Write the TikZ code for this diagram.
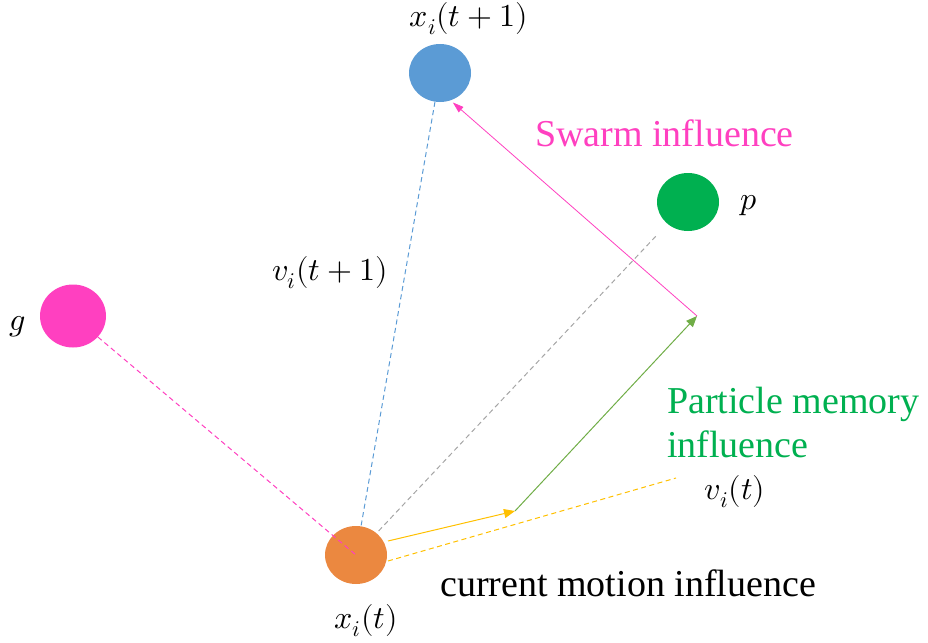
\documentclass[tikz,border=0pt]{standalone}
\usepackage{fontspec}
\usepackage{unicode-math}
\setmainfont{Liberation Serif}
\setmathfont{Latin Modern Math}
\usetikzlibrary{arrows.meta,shapes.geometric}
\definecolor{corange}{HTML}{EB8840}
\definecolor{cblue}{HTML}{5B9BD5}
\definecolor{cgreen}{HTML}{00B050}
\definecolor{cpink}{HTML}{FF40C0}
\definecolor{cyellow}{HTML}{FFC000}
\definecolor{cgline}{HTML}{70AD47}
\definecolor{cgray}{HTML}{A5A5A5}
\tikzset{
  particle/.style={ellipse,draw=none,minimum width=62pt,minimum height=58pt,inner sep=0pt},
  lbl/.style={font=\fontsize{38}{44}\selectfont,inner sep=0pt,align=left},
  mlbl/.style={font=\fontsize{32}{38}\selectfont,inner sep=0pt},
  conn/.style={line width=1pt},
  dconn/.style={line width=1pt,dash pattern=on 5pt off 3.5pt},
  tip/.style={-{Triangle[length=11pt,width=9pt]}}
}
\begin{document}
\begin{tikzpicture}[x=1pt,y=-1pt]
\useasboundingbox (0,0) rectangle (928,642);
\node[particle,fill=corange] (xo) at (356,555) {};
\node[particle,fill=cblue] (xn) at (440,73) {};
\node[particle,fill=cgreen] (p) at (688,202) {};
\node[particle,fill=cpink,minimum width=66pt,minimum height=63pt] (g) at (73,316) {};
\coordinate (A) at (515,511);
\coordinate (B) at (697,316);
\coordinate (V) at (676,478);
% connectors
\draw[dconn,cpink] (g) -- (xo.center);
\draw[dconn,cblue] (xn) -- (xo);
\draw[dconn,cgray,shorten <=17pt] (p) -- (xo);
\draw[conn,cyellow,tip] (388,541) -- (A);
\draw[dconn,cyellow] (388,561) -- (V);
\draw[conn,cgline,tip] (A) -- (B);
\draw[conn,cpink,line width=0.8pt,shorten >=3pt,-{Triangle[length=11pt,width=7pt]}] (B) -- (xn.-69);
% labels
\node[mlbl] (lxn) at (469,19) {$x_i(t+1)$};
\node[mlbl] (lxo) at (366,621) {$x_i(t)$};
\node[mlbl] (lv1) at (330,273) {$v_i(t+1)$};
\node[mlbl] (lvt) at (735,492) {$v_i(t)$};
\node[mlbl] (lp) at (749,206) {$p$};
\node[mlbl] (lg) at (18,327) {$g$};
\node[lbl,text=cpink,anchor=west] (sw) at (535,133) {Swarm influence};
\node[lbl,text=cgreen,anchor=north west] (pm) at (667,387) {Particle memory\\influence};
\node[lbl,text=black,anchor=west] (cm) at (440,583) {current motion influence};
\end{tikzpicture}
\end{document}
